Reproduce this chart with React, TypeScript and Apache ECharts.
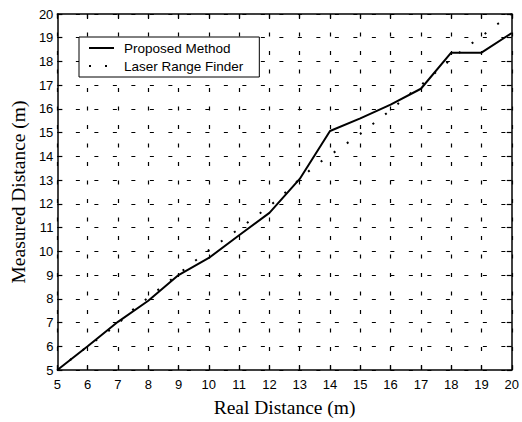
import React, { useEffect, useRef } from "react";
import * as echarts from "echarts";

const realDistance = [5, 6, 7, 8, 9, 10, 11, 12, 13, 14, 15, 16, 17, 18, 19, 20];
const proposedMethod = [5.0, 6.0, 7.03, 7.92, 9.0, 9.72, 10.68, 11.62, 13.05, 15.07, 15.6, 16.18, 16.85, 18.37, 18.37, 19.2];
const laserX = [5, 5.5, 6, 6.5, 7, 7.5, 8, 8.5, 9, 9.5, 10, 10.5, 11, 11.5, 12, 12.5, 13, 13.5, 14, 14.5, 15, 15.5, 16, 16.5, 17, 17.5, 18, 18.5, 19, 19.5, 20];
const laserY = [5.0, 5.5, 6.0, 6.45, 6.95, 7.55, 8.05, 8.55, 9.05, 9.55, 10.05, 10.5, 10.95, 11.42, 11.9, 12.45, 13.05, 13.6, 14.05, 14.5, 14.95, 15.45, 15.95, 16.5, 17.0, 17.55, 18.1, 18.6, 19.05, 19.55, 20.0];
const seriesNames = ["Proposed Method", "Laser Range Finder"];
const axisTitles = { x: "Real Distance (m)", y: "Measured Distance (m)" };

export default function App() {
  const ref = useRef<HTMLDivElement>(null);
  useEffect(() => {
    if (!ref.current) return;
    const chart = echarts.init(ref.current, undefined, { renderer: "svg" });
    const tickFont = { fontFamily: "Liberation Sans, Arial, sans-serif", fontSize: 13, color: "#000" };
    const gridLine = { show: true, lineStyle: { color: "#000", width: 1.2, type: [4, 14.5] as any } };
    const titleFont = { fontFamily: "Liberation Serif, Times New Roman, serif", fontSize: 19.5, color: "#000" };
    const baseX = {
      type: "value" as const,
      min: 5,
      max: 20,
      interval: 1,
      axisLine: { show: true, onZero: false, lineStyle: { color: "#000", width: 1.5 } },
      axisTick: { show: true, inside: true, length: 5, lineStyle: { color: "#000", width: 1.2 } },
    };
    chart.setOption({
      animation: false,
      backgroundColor: "#fff",
      grid: { left: 50, right: 9, top: 14, bottom: 47, containLabel: false },
      legend: {
        orient: "vertical",
        left: 79,
        top: 37,
        backgroundColor: "#fff",
        borderColor: "#000",
        borderWidth: 1,
        borderRadius: 0,
        padding: [4, 16, 4, 9],
        itemWidth: 25,
        itemHeight: 8,
        itemGap: 4,
        itemStyle: { opacity: 0, borderWidth: 0 },
        textStyle: { fontFamily: "Liberation Sans, Arial, sans-serif", fontSize: 13.5, color: "#000", padding: [0, 0, 0, 5] },
        data: seriesNames,
      },
      xAxis: [
        {
          ...baseX,
          position: "bottom",
          name: axisTitles.x,
          nameLocation: "middle",
          nameGap: 27,
          nameTextStyle: titleFont,
          axisLabel: { ...tickFont, margin: 8 },
          splitLine: gridLine,
        },
        { ...baseX, position: "top", axisLabel: { show: false }, splitLine: { show: false } },
      ],
      yAxis: [
        {
          ...baseX,
          position: "left",
          name: axisTitles.y,
          nameLocation: "middle",
          nameGap: 28,
          nameTextStyle: titleFont,
          axisLabel: { ...tickFont, margin: 4 },
          splitLine: gridLine,
        },
        { ...baseX, position: "right", axisLabel: { show: false }, splitLine: { show: false } },
      ],
      series: [
        {
          name: seriesNames[0],
          type: "line",
          data: realDistance.map((x, i) => [x, proposedMethod[i]]),
          symbol: "none",
          lineStyle: { color: "#000", width: 2 },
          itemStyle: { color: "#000" },
        },
        {
          name: seriesNames[1],
          type: "line",
          data: laserX.map((x, i) => [x, laserY[i]]),
          symbol: "none",
          lineStyle: { color: "#000", width: 2, type: [2, 14] as any },
          itemStyle: { color: "#000" },
        },
      ],
    });
    return () => chart.dispose();
  }, []);
  return <div ref={ref} style={{ position: "fixed", left: 0, top: 0, width: 522, height: 422 }} />;
}
